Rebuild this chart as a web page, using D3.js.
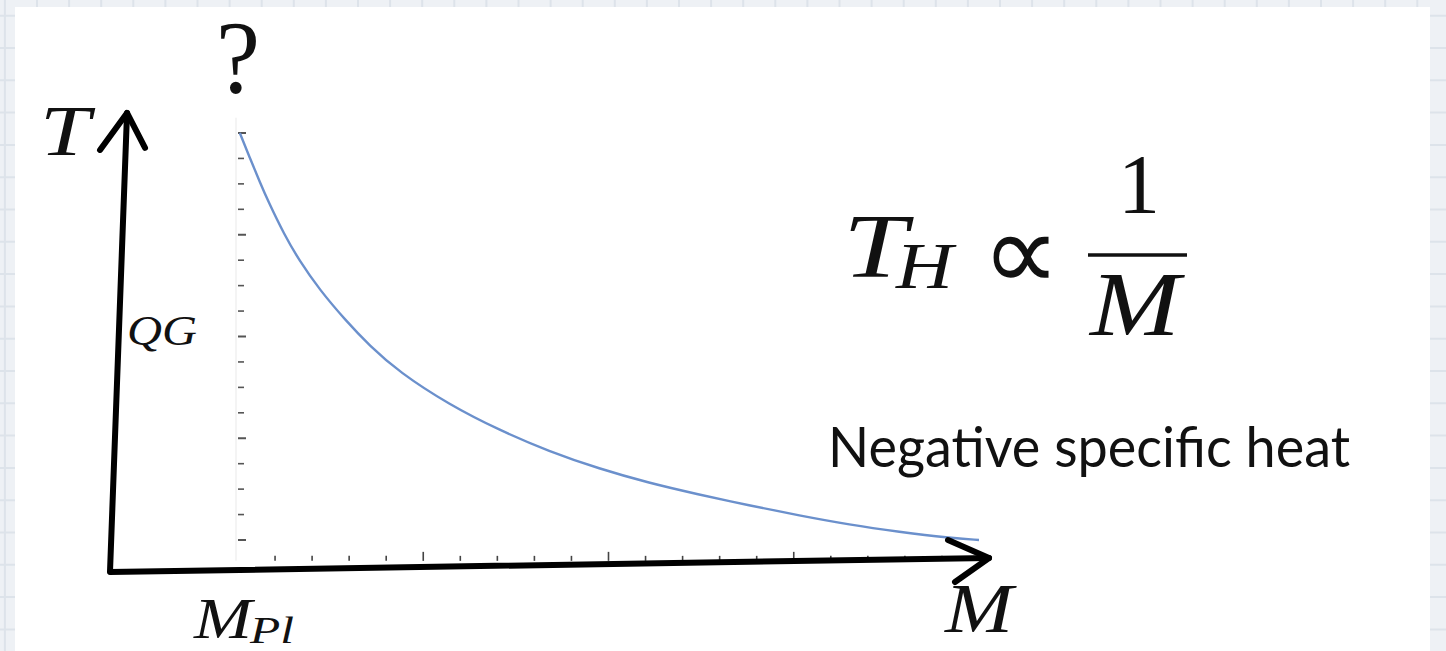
<!DOCTYPE html>
<html>
<head>
<meta charset="utf-8">
<script src="https://cdn.jsdelivr.net/npm/d3@7"></script>
<style>
  html, body { margin: 0; padding: 0; background: #eef1f5; }
  svg { display: block; }
</style>
</head>
<body>
<svg id="chart" width="1446" height="651"></svg>
<script>
// Hawking temperature falling with black-hole mass (sampled curve)
const massValues = [0.01, 0.065, 0.12, 0.16, 0.25, 0.33, 0.44, 0.58, 0.71, 0.87, 1.14, 1.41, 1.68, 1.95, 2.22, 2.48, 2.76, 3.03, 3.30, 3.57, 3.84, 4.0];
const tempValues = [4.0, 3.75, 3.51, 3.34, 3.0, 2.75, 2.46, 2.16, 1.91, 1.65, 1.33, 1.08, 0.87, 0.70, 0.56, 0.45, 0.34, 0.24, 0.15, 0.08, 0.02, 0.0];

// axis ticks
const massTicks = d3.range(1, 20).map(i => +(i * 0.2).toFixed(2));
const massMajor = [1, 2, 3];
const tempTicks = d3.range(0, 17).map(i => i * 0.25);
const tempMajor = [0, 1, 2, 3, 4];

// labels
const labelQuestion = "?";
const labelT = "T";
const labelQG = "QG";
const labelM = "M";
const labelMPl = ["M", "Pl"];
const formulaParts = ["T", "H", "\u221D", "1", "M"];
const caption = "Negative specific heat";

const svg = d3.select("#chart");
const W = 1446, H = 651;

// graph-paper backdrop and white sheet
const bg = svg.append("g");
bg.append("rect").attr("width", W).attr("height", H).attr("fill", "#eef1f5");
for (let gx = 4.9; gx < W; gx += 32.1) {
  bg.append("line").attr("x1", gx).attr("x2", gx).attr("y1", 0).attr("y2", H)
    .attr("stroke", "#dde3ea").attr("stroke-width", 2);
}
for (let gy = 15.7; gy < H; gy += 32.3) {
  bg.append("line").attr("x1", 0).attr("x2", W).attr("y1", gy).attr("y2", gy)
    .attr("stroke", "#dde3ea").attr("stroke-width", 2);
}
bg.append("rect").attr("x", 15).attr("y", 7).attr("width", 1415).attr("height", H - 7).attr("fill", "#fff");

// scales
const x = d3.scaleLinear().domain([0, 4]).range([238, 979]);
const y = d3.scaleLinear().domain([0, 4]).range([540, 133]);
const axisT = -0.205;

// faint plot y axis
svg.append("line")
  .attr("x1", x(0) - 2).attr("x2", x(0) - 2)
  .attr("y1", y(4.15)).attr("y2", y(axisT))
  .attr("stroke", "#f0f0f0").attr("stroke-width", 1.5);

// y ticks (pointing right)
svg.append("g").selectAll("line").data(tempTicks).join("line")
  .attr("x1", x(0))
  .attr("x2", d => x(0) + (tempMajor.includes(d) ? 8 : 6))
  .attr("y1", d => y(d)).attr("y2", d => y(d))
  .attr("stroke", "#555").attr("stroke-width", d => tempMajor.includes(d) ? 2 : 1.6);

// x ticks (pointing up)
svg.append("g").selectAll("line").data(massTicks).join("line")
  .attr("x1", d => x(d)).attr("x2", d => x(d))
  .attr("y1", y(axisT))
  .attr("y2", d => y(axisT) - (massMajor.includes(d) ? 9 : 5))
  .attr("stroke", "#444").attr("stroke-width", 1.6);

// curve
const pts = massValues.map((m, i) => [m, tempValues[i]]);
svg.append("path")
  .datum(pts)
  .attr("fill", "none")
  .attr("stroke", "#6b90cc")
  .attr("stroke-width", 2.4)
  .attr("d", d3.line().x(d => x(d[0])).y(d => y(d[1])).curve(d3.curveBasis));

// hand-drawn axes arrows
const corner = [x(-0.691), y(-0.314)];
const yTip = [x(-0.599), y(4.197)];
const xTip = [x(4.054), y(-0.177)];
const arrows = svg.append("g")
  .attr("fill", "none").attr("stroke", "#000")
  .attr("stroke-width", 6).attr("stroke-linecap", "round").attr("stroke-linejoin", "round");
arrows.append("path")
  .attr("d", `M${yTip[0]},${yTip[1]} L${corner[0]},${corner[1]} L${xTip[0]},${xTip[1]}`);
arrows.append("path")
  .attr("d", `M${yTip[0] - 27},${yTip[1] + 37} L${yTip[0]},${yTip[1]} L${yTip[0] + 18},${yTip[1] + 35}`);
arrows.append("path")
  .attr("d", `M${xTip[0] - 41},${xTip[1] - 18} L${xTip[0]},${xTip[1]} L${xTip[0] - 34},${xTip[1] + 24}`);

// labels
const serif = "'Liberation Serif', 'DejaVu Serif', serif";
function label(txt, px, py, size, opts = {}) {
  const t = svg.append("text")
    .attr("x", px).attr("y", py)
    .attr("font-family", opts.family || serif)
    .attr("font-style", opts.italic === false ? "normal" : "italic")
    .attr("font-size", size)
    .attr("fill", "#111")
    .attr("text-anchor", opts.anchor || "start")
    .text(txt);
  if (opts.len) t.attr("textLength", opts.len).attr("lengthAdjust", "spacingAndGlyphs");
  return t;
}

label(labelQuestion, x(0), 93, 104, { italic: false, anchor: "middle", len: 44 });
label(labelT, 40, 155, 72, { len: 50 });
label(labelQG, 127, 345, 42, { len: 70 });
label(labelMPl[0], 194, 638, 56, { len: 58 });
label(labelMPl[1], 250, 643, 38, { len: 44 });
label(labelM, 945, 632, 70, { len: 68 });

// T_H ∝ 1/M
label(formulaParts[0], 843, 277, 92, { len: 64 });
label(formulaParts[1], 896, 288, 66, { len: 57 });
label(formulaParts[2], 1021, 290, 110, { italic: false, anchor: "middle", family: "'DejaVu Sans', 'DejaVu Serif', sans-serif" });
label(formulaParts[3], 1139, 213, 84, { italic: false, anchor: "middle" });
svg.append("line").attr("x1", 1088).attr("x2", 1187).attr("y1", 255).attr("y2", 255)
  .attr("stroke", "#111").attr("stroke-width", 3.5);
label(formulaParts[4], 1090, 335, 92, { len: 90 });

label(caption, 828, 467, 56, { italic: false, family: "Lato, 'Open Sans', sans-serif", len: 522 });
</script>
</body>
</html>
